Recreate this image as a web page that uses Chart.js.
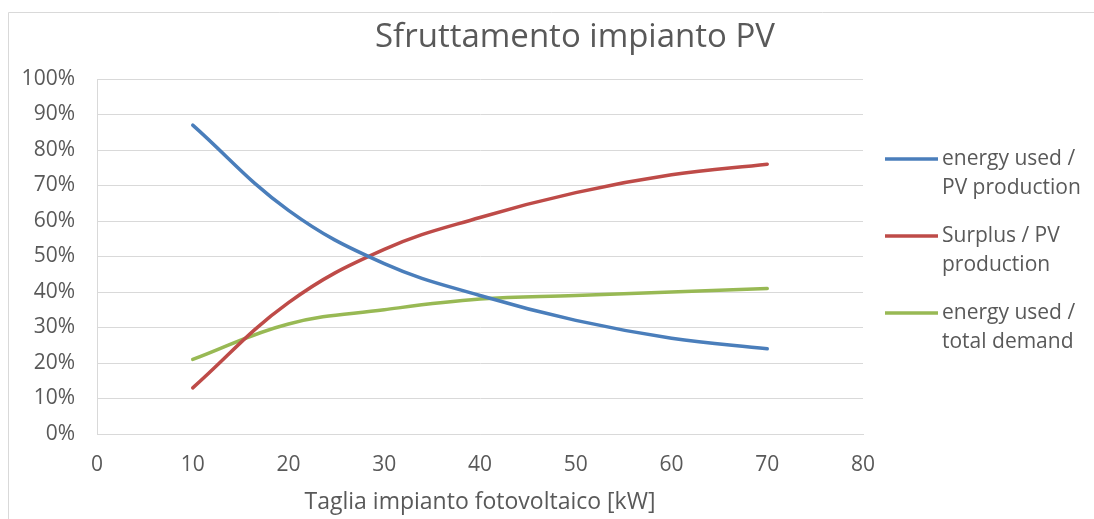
<!DOCTYPE html>
<html>
<head>
<meta charset="utf-8">
<script src="https://cdn.jsdelivr.net/npm/chart.js@4"></script>
<style>
  html, body { margin: 0; padding: 0; background: #fff; }
  #wrap { width: 1094px; height: 519px; position: relative; }
</style>
</head>
<body>
<div id="wrap"><canvas id="c" width="1094" height="519"></canvas></div>
<script>
// ---- data ----
const chartTitle = "Sfruttamento impianto PV";
const xAxisTitle = "Taglia impianto fotovoltaico [kW]";
const sizesKW = [10, 20, 30, 40, 50, 60, 70];
const usedOverProduction = [87, 63, 48, 39, 32, 27, 24];
const surplusOverProduction = [13, 37, 52, 61, 68, 73, 76];
const usedOverDemand = [21, 31, 35, 38, 39, 40, 41];
const seriesNames = [
  ["energy used /", "PV production"],
  ["Surplus / PV", "production"],
  ["energy used /", "total demand"]
];
const seriesColors = ["#4A7EBB", "#BE4B48", "#98B954"];
const yTicks = [0, 10, 20, 30, 40, 50, 60, 70, 80, 90, 100];
const xTicks = [0, 10, 20, 30, 40, 50, 60, 70, 80];

const FONT = "'Open Sans', 'Liberation Sans', sans-serif";
const TEXT = "#595959";

function pts(vals) { return sizesKW.map((x, i) => ({ x: x, y: vals[i] })); }

const decor = {
  id: 'decor',
  beforeDraw(chart) {
    const ctx = chart.ctx;
    ctx.save();
    ctx.strokeStyle = "#d9d9d9";
    ctx.lineWidth = 1;
    ctx.beginPath();
    ctx.moveTo(8.5, 519);
    ctx.lineTo(8.5, 12.5);
    ctx.lineTo(1094, 12.5);
    ctx.stroke();
    ctx.restore();
  },
  afterDraw(chart) {
    const ctx = chart.ctx;
    ctx.save();
    // title
    ctx.fillStyle = TEXT;
    ctx.font = "33px " + FONT;
    ctx.textAlign = "center";
    ctx.textBaseline = "middle";
    ctx.fillText(chartTitle, 575, 38);
    // legend
    ctx.font = "21px " + FONT;
    ctx.textAlign = "left";
    chart.data.datasets.forEach((ds, i) => {
      const y0 = 159 + i * 77;
      ctx.strokeStyle = ds.borderColor;
      ctx.lineWidth = 3.5;
      ctx.lineCap = "butt";
      ctx.beginPath();
      ctx.moveTo(885, y0);
      ctx.lineTo(938, y0);
      ctx.stroke();
      ctx.fillStyle = TEXT;
      seriesNames[i].forEach((ln, j) => ctx.fillText(ln, 942, y0 + j * 29));
    });
    ctx.restore();
  }
};

new Chart(document.getElementById('c'), {
  type: 'line',
  data: {
    datasets: [
      { label: seriesNames[0].join(' '), data: pts(usedOverProduction), borderColor: seriesColors[0] },
      { label: seriesNames[1].join(' '), data: pts(surplusOverProduction), borderColor: seriesColors[1] },
      { label: seriesNames[2].join(' '), data: pts(usedOverDemand), borderColor: seriesColors[2] }
    ].map(d => Object.assign(d, {
      borderWidth: 3.5, tension: 0.4, pointRadius: 0, fill: false,
      borderCapStyle: 'round', borderJoinStyle: 'round'
    }))
  },
  options: {
    responsive: false,
    animation: false,
    layout: { padding: { left: 8, right: 231, top: 79, bottom: 0 } },
    plugins: { legend: { display: false }, title: { display: false }, tooltip: { enabled: false } },
    scales: {
      x: {
        type: 'linear', min: 0, max: 80,
        afterBuildTicks: s => { s.ticks = xTicks.map(v => ({ value: v })); },
        afterFit: s => { s.height = 85; },
        grid: { display: false, drawTicks: false },
        border: { display: true, color: '#d9d9d9', width: 1 },
        ticks: { color: TEXT, font: { family: FONT, size: 21 }, padding: 18, maxRotation: 0 },
        title: { display: true, text: xAxisTitle, color: TEXT, font: { family: FONT, size: 23 }, padding: { top: 0, bottom: 3 } }
      },
      y: {
        min: 0, max: 100,
        afterBuildTicks: s => { s.ticks = yTicks.map(v => ({ value: v })); },
        afterFit: s => { s.width = 89; },
        grid: { color: '#d9d9d9', lineWidth: 1, drawTicks: false },
        border: { display: true, color: '#d9d9d9', width: 1 },
        ticks: { color: TEXT, font: { family: FONT, size: 21 }, padding: 22, callback: v => v + '%' }
      }
    }
  },
  plugins: [decor]
});
</script>
</body>
</html>
